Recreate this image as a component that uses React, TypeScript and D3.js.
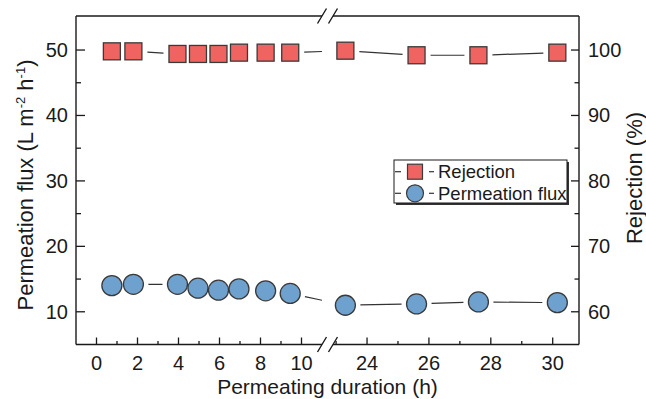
import * as d3 from 'd3';

// Permeating duration (h)
const hours = [0.75, 1.8, 3.95, 4.95, 5.95, 6.95, 8.25, 9.45, 23.3, 25.6, 27.6, 30.15];
// Rejection (%) - right axis
const rejection = [99.8, 99.8, 99.4, 99.4, 99.4, 99.6, 99.6, 99.6, 99.9, 99.2, 99.2, 99.6];
// Permeation flux (L m-2 h-1) - left axis
const flux = [14.0, 14.2, 14.2, 13.6, 13.3, 13.5, 13.2, 12.8, 11.0, 11.2, 11.5, 11.4];

const xTicksLeft = [0, 2, 4, 6, 8, 10];
const xTicksRight = [24, 26, 28, 30];
const yTicksLeft = [10, 20, 30, 40, 50];
const yTicksRight = [60, 70, 80, 90, 100];

const W = 646;
const H = 399;
const margin = { top: 16, right: 67, bottom: 54.5, left: 76 };
const breakLeft = 322;
const breakRight = 333;

const FONT = "'Liberation Sans', Arial, sans-serif";
const INK = '#1a1a1a';
const SQUARE_FILL = '#EF6461';
const CIRCLE_FILL = '#6FA1CF';
const MARK_STROKE = '#3a3a3a';

// Origin style "line + symbol": line stops short of each marker
const gappedSegments = (pts: [number, number][], gap: number) => {
    const line = d3.line();
    const out: string[] = [];
    for (let i = 0; i < pts.length - 1; i++) {
        const [x1, y1] = pts[i];
        const [x2, y2] = pts[i + 1];
        const d = Math.hypot(x2 - x1, y2 - y1);
        if (d <= 2 * gap) continue;
        const ux = (x2 - x1) / d;
        const uy = (y2 - y1) / d;
        out.push(
            line([
                [x1 + ux * gap, y1 + uy * gap],
                [x2 - ux * gap, y2 - uy * gap],
            ]) || ''
        );
    }
    return out.join('');
};

const App = () => {
    const left = margin.left;
    const right = W - margin.right;
    const top = margin.top;
    const bottom = H - margin.bottom;

    // broken x axis: two linear segments
    const xL = d3.scaleLinear().domain([-1, 11]).range([left, breakLeft]);
    const xR = d3.scaleLinear().domain([22.9, 30.85]).range([breakRight, right]);
    const x = (h: number) => (h < 16 ? xL(h) : xR(h));

    const yL = d3.scaleLinear().domain([5, 55.2]).range([bottom, top]);
    const yR = d3.scaleLinear().domain([55, 105.2]).range([bottom, top]);

    const idx = d3.range(hours.length);
    const fluxPts = idx.map((i) => [x(hours[i]), yL(flux[i])] as [number, number]);
    const rejPts = idx.map((i) => [x(hours[i]), yR(rejection[i])] as [number, number]);

    const minorX = [
        ...d3.range(-1, 11, 2).filter((v) => v > -1),
        ...d3.range(23, 31, 2),
    ];
    const minorY = [15, 25, 35, 45];

    const slash = (cx: number, cy: number) =>
        `M${cx - 4.5},${cy + 7.5}L${cx + 4.5},${cy - 7.5}`;

    const legendX = 394;
    const legendY = 160;
    const legendW = 173;
    const legendH = 43;
    const row1 = 171.7;
    const row2 = 193.3;
    const symX = legendX + 21;

    return (
        <svg
            width={W}
            height={H}
            style={{ position: 'absolute', left: 0, top: 0, background: '#fff' }}
            fontFamily={FONT}
        >
            <defs>
                <clipPath id="segL">
                    <rect x={left} y={top} width={breakLeft - left} height={bottom - top} />
                </clipPath>
                <clipPath id="segR">
                    <rect x={breakRight} y={top} width={right - breakRight} height={bottom - top} />
                </clipPath>
            </defs>

            {/* connecting lines, clipped at the axis break */}
            {['segL', 'segR'].map((c) => (
                <g key={c} clipPath={`url(#${c})`} fill="none" stroke="#333" strokeWidth={1.2}>
                    <path d={gappedSegments(fluxPts, 15)} />
                    <path d={gappedSegments(rejPts, 14)} />
                </g>
            ))}

            {/* frame */}
            <g stroke={INK} strokeWidth={1.4} fill="none">
                <line x1={left} y1={top} x2={left} y2={bottom} />
                <line x1={right} y1={top} x2={right} y2={bottom} />
                <line x1={left} y1={top} x2={breakLeft} y2={top} />
                <line x1={breakRight} y1={top} x2={right} y2={top} />
                <line x1={left} y1={bottom} x2={breakLeft} y2={bottom} />
                <line x1={breakRight} y1={bottom} x2={right} y2={bottom} />
                <path d={slash(breakLeft, top) + slash(breakRight, top)} />
                <path d={slash(breakLeft, bottom) + slash(breakRight, bottom)} />
            </g>

            {/* ticks */}
            <g stroke={INK} strokeWidth={1.3}>
                {xTicksLeft.map((t) => (
                    <line key={'xl' + t} x1={xL(t)} x2={xL(t)} y1={bottom} y2={bottom - 7} />
                ))}
                {xTicksRight.map((t) => (
                    <line key={'xr' + t} x1={xR(t)} x2={xR(t)} y1={bottom} y2={bottom - 7} />
                ))}
                {minorX.map((t) => (
                    <line key={'xm' + t} x1={x(t)} x2={x(t)} y1={bottom} y2={bottom - 3.5} />
                ))}
                {yTicksLeft.map((t) => (
                    <line key={'yl' + t} x1={left} x2={left + 9} y1={yL(t)} y2={yL(t)} />
                ))}
                {minorY.map((t) => (
                    <line key={'ylm' + t} x1={left} x2={left + 5} y1={yL(t)} y2={yL(t)} />
                ))}
                {yTicksRight.map((t) => (
                    <line key={'yr' + t} x1={right} x2={right - 8} y1={yR(t)} y2={yR(t)} />
                ))}
                {minorY.map((t) => (
                    <line key={'yrm' + t} x1={right} x2={right - 4.5} y1={yR(t + 50)} y2={yR(t + 50)} />
                ))}
            </g>

            {/* tick labels */}
            <g fill={INK} fontSize={20}>
                {xTicksLeft.map((t) => (
                    <text key={'lx' + t} x={xL(t)} y={370} textAnchor="middle">{t}</text>
                ))}
                {xTicksRight.map((t) => (
                    <text key={'rx' + t} x={xR(t)} y={370} textAnchor="middle">{t}</text>
                ))}
                {yTicksLeft.map((t) => (
                    <text key={'ly' + t} x={left - 8} y={yL(t)} dy="0.35em" textAnchor="end">{t}</text>
                ))}
                {yTicksRight.map((t) => (
                    <text key={'ry' + t} x={right + 9} y={yR(t)} dy="0.35em" textAnchor="start">{t}</text>
                ))}
            </g>

            {/* axis titles */}
            <g fill={INK}>
                <text x={(left + right) / 2} y={394} textAnchor="middle" fontSize={21}>
                    Permeating duration (h)
                </text>
                <text transform="translate(33,185) rotate(-90)" textAnchor="middle" fontSize={22}>
                    Permeation flux (L m<tspan fontSize={13} dy={-8}>-2</tspan>
                    <tspan dy={8}> h</tspan>
                    <tspan fontSize={13} dy={-8}>-1</tspan>
                    <tspan dy={8}>)</tspan>
                </text>
                <text transform="translate(642,178) rotate(-90)" textAnchor="middle" fontSize={22}>
                    Rejection (%)
                </text>
            </g>

            {/* markers */}
            <g fill={CIRCLE_FILL} stroke={MARK_STROKE} strokeWidth={1.3}>
                {idx.map((i) => (
                    <circle key={'c' + i} cx={fluxPts[i][0]} cy={fluxPts[i][1]} r={10} />
                ))}
            </g>
            <g fill={SQUARE_FILL} stroke={MARK_STROKE} strokeWidth={1.3}>
                {idx.map((i) => (
                    <rect
                        key={'s' + i}
                        x={rejPts[i][0] - 8.5}
                        y={rejPts[i][1] - 8.5}
                        width={17}
                        height={17}
                    />
                ))}
            </g>

            {/* legend */}
            <g>
                <rect x={legendX + 2} y={legendY + 2} width={legendW} height={legendH} fill="#333" />
                <rect x={legendX} y={legendY} width={legendW} height={legendH} fill="#fff" stroke={INK} strokeWidth={1} />
                <g stroke="#333" strokeWidth={1.2}>
                    <line x1={legendX + 1} x2={legendX + 7} y1={row1} y2={row1} />
                    <line x1={legendX + 35} x2={legendX + 40} y1={row1} y2={row1} />
                    <line x1={legendX + 1} x2={legendX + 7} y1={row2} y2={row2} />
                    <line x1={legendX + 35} x2={legendX + 40} y1={row2} y2={row2} />
                </g>
                <rect x={symX - 7.5} y={row1 - 7.5} width={15} height={15} fill={SQUARE_FILL} stroke={MARK_STROKE} strokeWidth={1.2} />
                <circle cx={symX} cy={row2} r={8.5} fill={CIRCLE_FILL} stroke={MARK_STROKE} strokeWidth={1.2} />
                <g fill={INK} fontSize={18.5}>
                    <text x={legendX + 44} y={row1} dy="0.35em">Rejection</text>
                    <text x={legendX + 44} y={row2} dy="0.35em">Permeation flux</text>
                </g>
            </g>
        </svg>
    );
};

export default App;
